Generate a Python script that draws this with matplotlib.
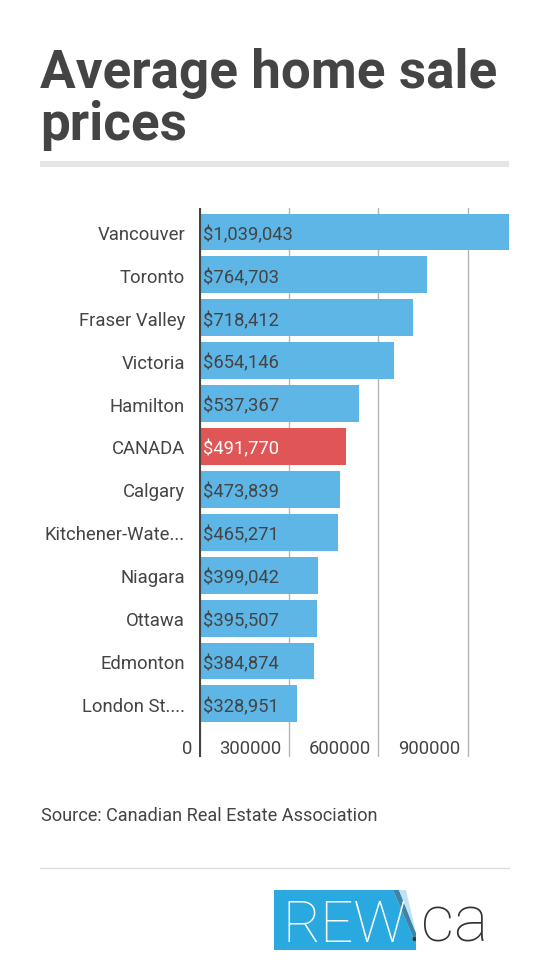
import matplotlib
matplotlib.use("Agg")
import matplotlib.pyplot as plt
from matplotlib.patches import Rectangle, Polygon
from matplotlib.lines import Line2D

categories = ["Vancouver", "Toronto", "Fraser Valley", "Victoria", "Hamilton", "CANADA",
              "Calgary", "Kitchener-Wate...", "Niagara", "Ottawa", "Edmonton", "London St...."]
values = [1039043, 764703, 718412, 654146, 537367, 491770,
          473839, 465271, 399042, 395507, 384874, 328951]
highlight = "CANADA"
xticks = [0, 300000, 600000, 900000]
xtick_labels = ["0", "300000", "600000", "900000"]

BLUE = "#5db6e6"
RED = "#e05556"
TXT = "#444444"

plt.rcParams['font.family'] = ['Roboto', 'DejaVu Sans']

W, H = 550, 978
fig = plt.figure(figsize=(W/100, H/100), dpi=100)

def fx(px): return px / W
def fy(py): return 1 - py / H

ax_top, ax_bot, ax_left, ax_right = 209, 758, 199, 509
ax = fig.add_axes([fx(ax_left), fy(ax_bot), fx(ax_right) - fx(ax_left), fy(ax_top) - fy(ax_bot)])

step = 42.9
c0 = 233
ylo = (ax_bot - c0) / step
yhi = -(c0 - ax_top) / step
ypos = list(range(len(categories)))
colors = [RED if c == highlight else BLUE for c in categories]
ax.barh(ypos, values, height=0.86, color=colors, zorder=2)
ax.set_ylim(ylo, yhi)
ax.set_xlim(0, max(values))

for t in xticks[1:]:
    ax.axvline(t, color="#b5b5b5", lw=1, zorder=1)
ax.axvline(0, color="#444444", lw=3, zorder=3)

for s in ax.spines.values():
    s.set_visible(False)
ax.set_xticks([])
ax.set_yticks([])

px2d = max(values) / (ax_right - ax_left)
for y, c, v in zip(ypos, categories, values):
    ax.text(-14 * px2d, y, c, ha="right", va="center_baseline",
            fontsize=13.3, color=TXT)
    ax.text(4 * px2d, y, "${:,}".format(v), ha="left", va="center_baseline",
            fontsize=13.2, color="white" if c == highlight else TXT, zorder=4)

tick_y = (747 - c0) / step
for t, lab in zip(xticks, xtick_labels):
    ax.text(t - 7 * px2d, tick_y, lab, ha="right", va="center_baseline",
            fontsize=13.3, color=TXT, clip_on=False)

# Title
fig.text(fx(40), fy(88), "Average home sale", fontsize=38.2, fontweight="bold", color="#444444",
         ha="left", va="baseline")
fig.text(fx(40), fy(140), "prices", fontsize=38.2, fontweight="bold", color="#444444",
         ha="left", va="baseline")
fig.add_artist(Rectangle((fx(40), fy(168)), fx(509) - fx(40), fy(162) - fy(168),
                         transform=fig.transFigure, color="#e6e6e6", lw=0))

# Source
fig.text(fx(41), fy(814), "Source: Canadian Real Estate Association", fontsize=13.1, color=TXT,
         ha="left", va="center_baseline")
fig.add_artist(Line2D([fx(40), fx(509)], [fy(869), fy(869)], transform=fig.transFigure,
                      color="#dddddd", lw=1))

# Logo
fig.add_artist(Polygon([(fx(274), fy(891)), (fx(393), fy(891)), (fx(416), fy(945)),
                        (fx(416), fy(951)), (fx(274), fy(951))],
                       closed=True, transform=fig.transFigure, color="#2aa9e1", lw=0))
fig.add_artist(Polygon([(fx(393), fy(891)), (fx(399), fy(891)), (fx(416), fy(934)),
                        (fx(416), fy(945))],
                       closed=True, transform=fig.transFigure, color="#1d6f96", lw=0, alpha=0.85))
fig.add_artist(Polygon([(fx(399), fy(891)), (fx(406), fy(891)), (fx(416), fy(934))],
                       closed=True, transform=fig.transFigure, color="#bfe3f4", lw=0))
fig.text(fx(283), fy(942), "REW", fontsize=42, fontweight="light", color="white",
         ha="left", va="baseline")
fig.text(fx(407), fy(942), ".ca", fontsize=47, fontweight="light", color="#333333",
         ha="left", va="baseline")

fig.savefig("out.png", dpi=100, facecolor="white")
